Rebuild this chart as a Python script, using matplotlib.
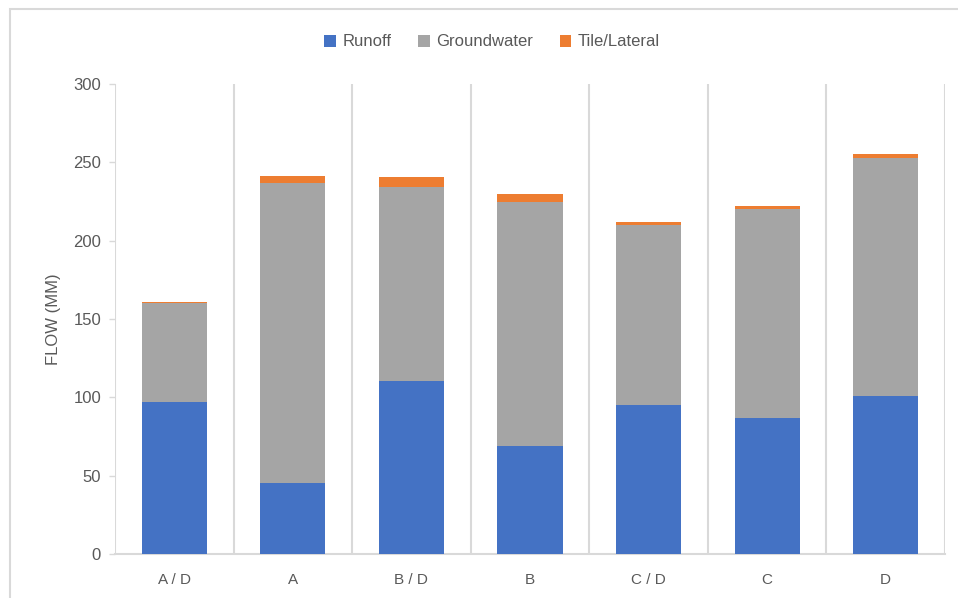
import matplotlib
matplotlib.use("Agg")
import matplotlib.pyplot as plt
from matplotlib.patches import Rectangle
import numpy as np

categories = ["A / D", "A", "B / D", "B", "C / D", "C", "D"]
runoff = [97, 45.5, 110.5, 69, 95, 87, 101]
groundwater = [63, 191.5, 124, 156, 115, 133, 152]
tile_lateral = [0.8, 4.3, 6, 4.7, 1.9, 2.3, 2.5]

series_names = ["Runoff", "Groundwater", "Tile/Lateral"]
colors = ["#4472C4", "#A5A5A5", "#ED7D31"]
y_ticks = [0, 50, 100, 150, 200, 250, 300]

plt.rcParams["font.family"] = ["Liberation Sans Narrow", "Liberation Sans", "DejaVu Sans"]

fig = plt.figure(figsize=(9.58, 5.98), dpi=100)
ax = fig.add_axes([115 / 958, 1 - 554 / 598, 830 / 958, 470 / 598])

x = np.arange(len(categories))
width = 0.55
bottom = np.zeros(len(categories))
handles = []
for vals, name, col in zip([runoff, groundwater, tile_lateral], series_names, colors):
    h = ax.bar(x, vals, width, bottom=bottom, color=col, label=name, zorder=3)
    handles.append(h)
    bottom += np.array(vals)

ax.set_xlim(-0.5, len(categories) - 0.5)
ax.set_ylim(0, 300)
ax.set_yticks(y_ticks)
ax.set_xticks(x)
ax.set_xticklabels(categories)

# category separators drawn as vertical gridlines
for b in np.arange(-0.5, len(categories), 1.0):
    ax.axvline(b, color="#D9D9D9", lw=1.5, zorder=1)

for s in ["top", "right", "left"]:
    ax.spines[s].set_visible(False)
ax.spines["bottom"].set_color("#D9D9D9")
ax.spines["bottom"].set_linewidth(1.5)

ax.tick_params(axis="y", colors="#D9D9D9", labelcolor="#595959", labelsize=12,
               length=4, width=1, pad=6)
ax.tick_params(axis="x", length=0, labelcolor="#595959", labelsize=11, pad=14)

ax.set_ylabel("FLOW (MM)", color="#595959", fontsize=12, labelpad=9)

fig.legend(handles=handles, labels=series_names, loc="center",
           bbox_to_anchor=(492 / 958, 1 - 42 / 598), ncol=3, frameon=False,
           fontsize=12, handlelength=0.7, handleheight=0.7, handletextpad=0.4,
           columnspacing=1.6, labelcolor="#595959")

# outer chart frame
fig.patches.append(Rectangle((10 / 958, -0.05), 1.1, 1 - 9 / 598 + 0.05,
                             transform=fig.transFigure, fill=False,
                             edgecolor="#D9D9D9", lw=1.5))

fig.savefig("out.png", dpi=100)
